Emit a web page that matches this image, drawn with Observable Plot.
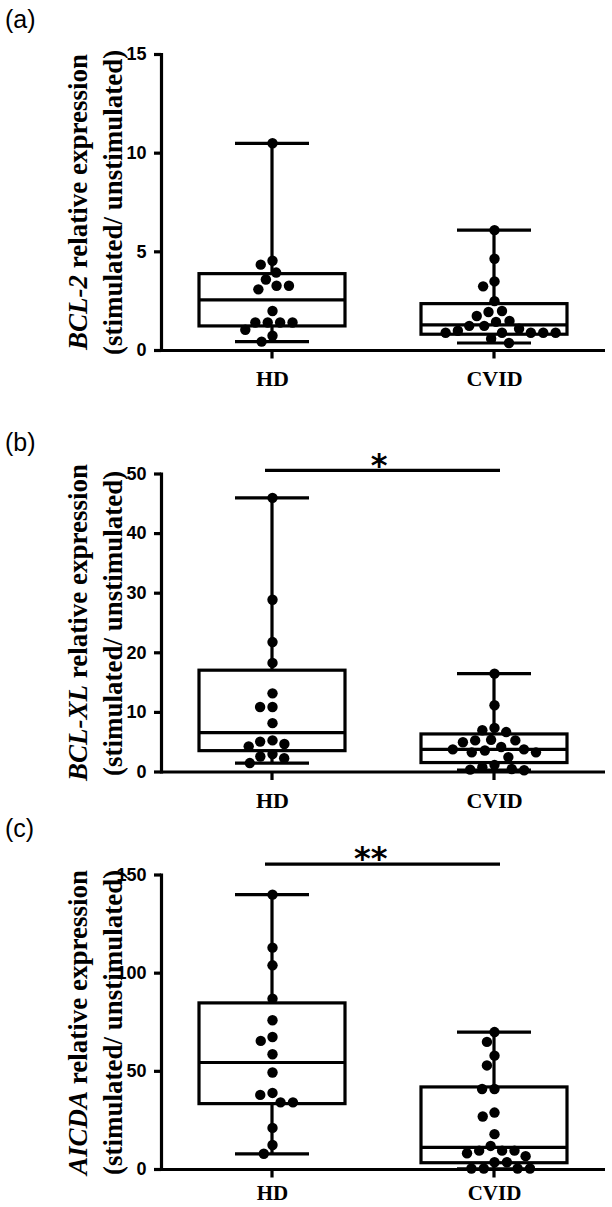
<!DOCTYPE html>
<html><head><meta charset="utf-8">
<script src="https://cdn.jsdelivr.net/npm/d3@7"></script>
<script src="https://cdn.jsdelivr.net/npm/@observablehq/plot@0.6"></script>
<style>
body{margin:0;background:#fff;}
#page{position:relative;width:612px;height:1207px;overflow:hidden;background:#fff}
.panel{position:absolute;left:0;}
.plab{position:absolute;left:5px;font-family:"Liberation Sans",Arial,sans-serif;font-size:25px;line-height:25px;color:#000}
.ytitle{position:absolute;width:70px;height:360px;writing-mode:vertical-rl;transform:rotate(180deg);font-family:"Liberation Serif","Times New Roman",serif;font-weight:bold;font-size:27px;line-height:35px;text-align:center;white-space:nowrap;color:#000}
</style></head>
<body><div id="page"></div>
<script>
const groups = ["HD", "CVID"];

// (a) BCL-2
const bcl2HD = [10.5, 4.55, 4.35, 3.95, 3.6, 3.28, 3.1, 3.28, 2.0, 1.42, 1.42, 1.42, 1.42, 1.05, 0.75, 0.45];
const bcl2CVID = [6.1, 4.65, 3.5, 3.25, 2.5, 1.95, 2.0, 1.75, 1.5, 1.45, 1.25, 1.25, 1.1, 1.0, 0.9, 0.9, 0.9, 0.9, 0.9, 0.6, 0.38];
const bcl2HDBox = [0.45, 1.22, 2.57, 3.87, 10.5];   // min, q1, median, q3, max
const bcl2CVIDBox = [0.38, 0.8, 1.3, 2.35, 6.1];
const bcl2Ticks = [0, 5, 10, 15];

// (b) BCL-XL
const bclxlHD = [46, 28.9, 21.8, 18.3, 13.2, 10.9, 10.9, 8.2, 5.3, 5.1, 4.7, 4.3, 3.0, 2.6, 2.3, 1.5];
const bclxlCVID = [16.5, 11.2, 7.4, 7.0, 6.7, 5.4, 5.3, 5.3, 5.0, 4.2, 3.8, 3.8, 3.6, 3.3, 3.3, 2.5, 1.2, 0.8, 0.5, 0.4, 0.3];
const bclxlHDBox = [1.5, 3.5, 6.6, 17.0, 46];
const bclxlCVIDBox = [0.3, 1.5, 3.8, 6.3, 16.5];
const bclxlTicks = [0, 10, 20, 30, 40, 50];
const bclxlSig = {y: 50.6, label: "*"};

// (c) AICDA
const aicdaHD = [140, 113, 104, 87, 76, 67.5, 65.5, 58.7, 49.4, 39, 38, 34.2, 34.2, 21.2, 12.5, 8.0];
const aicdaCVID = [70, 65, 58, 53, 41, 41, 29, 27, 18, 12, 9.6, 9.6, 9.6, 8.3, 6.8, 3.7, 3.7, 0.5, 0.5, 0.5, 0.5];
const aicdaHDBox = [8.0, 33.3, 54.5, 84.6, 140];
const aicdaCVIDBox = [0.3, 3.2, 11.3, 41.8, 70];
const aicdaTicks = [0, 50, 100, 150];
const aicdaSig = {y: 155.5, label: "**"};

const SW = 3.2;
const FACET_W = (612 - 161 - 7) / 2;
const WHISK_INSET = (FACET_W - SW) / 2;
const page = document.getElementById("page");

function statRow(group, b) {
  return {group, min: b[0], q1: b[1], median: b[2], q3: b[3], max: b[4]};
}

function panel(o) {
  const dots = [
    ...o.hd.map(v => ({group: groups[0], value: v})),
    ...o.cvid.map(v => ({group: groups[1], value: v}))
  ];
  const stats = [statRow(groups[0], o.hdBox), statRow(groups[1], o.cvidBox)];
  const marks = [
    Plot.ruleY([0], {strokeWidth: SW}),
    Plot.frame({anchor: "left", facetAnchor: "left", strokeWidth: SW}),
    Plot.axisY({ticks: o.ticks, tickSize: 7, tickPadding: 8, fontSize: 18, fontWeight: "bold",
      fontFamily: "Liberation Sans, Arial, sans-serif", label: null, strokeWidth: SW}),
    Plot.axisFx({anchor: "bottom", tickSize: 0, tickPadding: o.xPad, fontSize: o.xFont, fontWeight: "bold",
      fontFamily: "Liberation Serif, Times New Roman, serif", label: null}),
    // x-axis tick mark under each group: a short, thick stub hanging below the baseline
    Plot.ruleY(stats, {fx: "group", y: () => 0, dy: 4, strokeWidth: 8,
      insetLeft: WHISK_INSET, insetRight: WHISK_INSET}),
    Plot.barY(stats, {fx: "group", y1: "q1", y2: "q3", fill: "none", stroke: "black", strokeWidth: SW, insetLeft: 38, insetRight: 38}),
    Plot.ruleY(stats, {fx: "group", y: "median", insetLeft: 38, insetRight: 38, strokeWidth: SW}),
    Plot.barY(stats, {fx: "group", y1: "q3", y2: "max", fill: "black", insetLeft: WHISK_INSET, insetRight: WHISK_INSET}),
    Plot.barY(stats, {fx: "group", y1: "min", y2: "q1", fill: "black", insetLeft: WHISK_INSET, insetRight: WHISK_INSET}),
    Plot.ruleY(stats, {fx: "group", y: "max", insetLeft: 74, insetRight: 74, strokeWidth: SW}),
    Plot.ruleY(stats, {fx: "group", y: "min", insetLeft: 74, insetRight: 74, strokeWidth: SW}),
    Plot.dot(dots, Plot.dodgeX({anchor: "middle", padding: 2}, {fx: "group", y: "value", r: 5.2, fill: "black"}))
  ];
  if (o.sig) {
    marks.push(
      Plot.ruleY([o.sig], {fx: () => groups[0], y: "y", insetLeft: 104, strokeWidth: SW}),
      Plot.ruleY([o.sig], {fx: () => groups[1], y: "y", insetRight: 105, strokeWidth: SW}),
      Plot.text([o.sig], {fx: () => groups[0], y: "y", text: "label", frameAnchor: "right", dx: 4, dy: -5,
        fontSize: 32, fontWeight: "bold", fontFamily: "DejaVu Sans, sans-serif"})
    );
  }
  const chart = Plot.plot({
    width: 612,
    height: o.mt + o.plotH + o.mb,
    marginLeft: 161, marginRight: 7, marginTop: o.mt, marginBottom: o.mb,
    fx: {domain: groups, padding: 0},
    y: {domain: o.domain},
    marks
  });
  chart.classList.add("panel");
  chart.style.top = o.top + "px";
  page.appendChild(chart);

  const lab = document.createElement("div");
  lab.className = "plab";
  lab.style.top = o.labTop + "px";
  lab.textContent = o.label;
  page.appendChild(lab);

  const t = document.createElement("div");
  t.className = "ytitle";
  const center = o.top + o.mt + o.plotH / 2;
  t.style.left = "61px";
  t.style.top = (center - 180) + "px";
  t.innerHTML = "<span><i>" + o.gene + "</i> relative expression</span><br><span>(stimulated/ unstimulated)</span>";
  page.appendChild(t);
}

panel({top: 0, mt: 54, plotH: 296, mb: 50, domain: [0, 15], ticks: bcl2Ticks,
  hd: bcl2HD, cvid: bcl2CVID, hdBox: bcl2HDBox, cvidBox: bcl2CVIDBox,
  label: "(a)", labTop: 7, gene: "BCL-2", xPad: 20, xFont: 22});
panel({top: 420, mt: 53.5, plotH: 298, mb: 48, domain: [0, 50], ticks: bclxlTicks,
  hd: bclxlHD, cvid: bclxlCVID, hdBox: bclxlHDBox, cvidBox: bclxlCVIDBox, sig: bclxlSig,
  label: "(b)", labTop: 430, gene: "BCL-XL", xPad: 20, xFont: 22});
panel({top: 820, mt: 54.5, plotH: 294.5, mb: 38, domain: [0, 150], ticks: aicdaTicks,
  hd: aicdaHD, cvid: aicdaCVID, hdBox: aicdaHDBox, cvidBox: aicdaCVIDBox, sig: aicdaSig,
  label: "(c)", labTop: 816, gene: "AICDA", xPad: 16, xFont: 21});
</script>
</body></html>
